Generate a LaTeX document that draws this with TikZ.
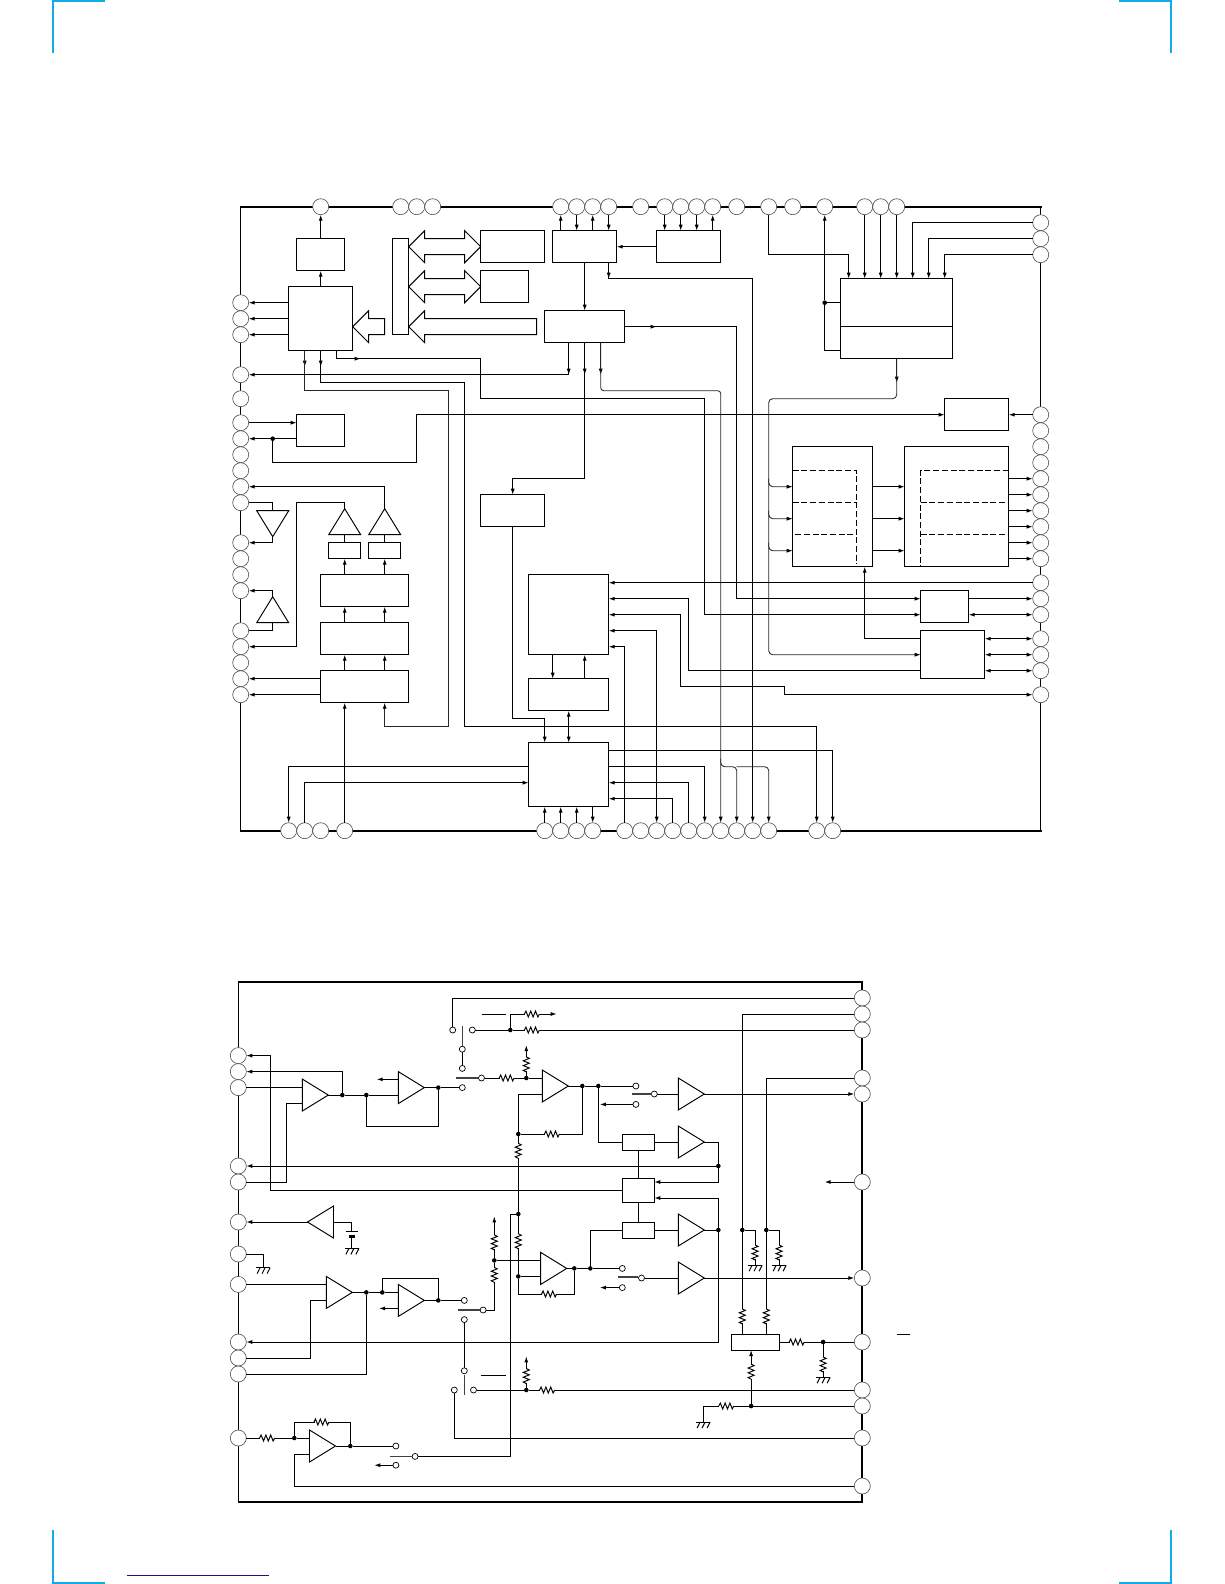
\documentclass[tikz,border=0pt]{standalone}
\usetikzlibrary{arrows.meta,shapes.geometric}
\definecolor{cropblue}{HTML}{12ADE8}
\definecolor{rulenavy}{HTML}{14148C}
\begin{document}
\begin{tikzpicture}[x=8pt,y=-8pt,
  wire/.style={line width=0.95pt},
  arr/.style={wire,-{Latex[length=6pt,width=4pt]}},
  dbl/.style={wire,{Latex[length=6pt,width=4pt]}-{Latex[length=6pt,width=4pt]}},
  soft/.style={line width=0.85pt,draw=black!85,-{Latex[length=6pt,width=4pt,black]}},
  pin/.style={circle, draw=black!70, fill=white, line width=0.6pt, minimum size=16pt, inner sep=0pt, outer sep=0pt},
  box/.style 2 args={rectangle, draw=black, fill=white, line width=0.95pt, minimum width=#1*8pt, minimum height=#2*8pt, inner sep=0pt, outer sep=0pt},
  amp/.style={isosceles triangle, isosceles triangle stretches, draw=black, fill=white, line width=0.95pt,
    minimum width=32pt, minimum height=26pt, inner sep=0pt, outer sep=0pt, anchor=lower side, shape border rotate=#1},
  amp/.default=0,
  dot/.style={circle, fill=black, minimum size=4.6pt, inner sep=0pt, outer sep=0pt},
  sw/.style={circle, draw=black, fill=white, line width=0.7pt, minimum size=6pt, inner sep=0pt, outer sep=0pt},
  swbar/.style={line width=1.5pt, black!75},
  dashline/.style={line width=0.95pt, dash pattern=on 6pt off 2.7pt},
  hres/.pic={\fill[white] (-7pt,-3.5pt) rectangle (7pt,3.5pt);
    \draw[line width=0.95pt] (-7.5pt,0pt) -- (-6pt,3pt) -- (-3.6pt,-3pt) -- (-1.2pt,3pt) -- (1.2pt,-3pt) -- (3.6pt,3pt) -- (6pt,-3pt) -- (7.5pt,0pt);},
  gnd/.pic={\draw[line width=0.95pt] (-7pt,0pt) -- (7pt,0pt);
    \foreach \dx in {-3,2,7} \draw[line width=0.95pt] (\dx pt,0pt) -- ++(-3pt,-6pt);},
  crop/.style={line width=1.8pt, cropblue}]
\useasboundingbox (0,0) rectangle (153,198);

% crop marks
\draw[crop] (6.625,0) -- (6.625,6.625);
\draw[crop] (6.625,0.1) -- (13.125,0.1);
\draw[crop] (146.375,0) -- (146.375,6.625);
\draw[crop] (146.375,0.1) -- (139.875,0.1);
\draw[crop] (6.625,191.25) -- (6.625,198);
\draw[crop] (6.625,197.9) -- (13.125,197.9);
\draw[crop] (146.375,191.25) -- (146.375,198);
\draw[crop] (146.375,197.9) -- (139.875,197.9);
\draw[line width=0.9pt, rulenavy] (15.9,196.9) -- (33.6,196.9);

% upper chart
\begin{scope}[xshift=0.7pt,yshift=-6.7pt]
\draw[line width=1.2pt] (30,25) -- (30,103);
\draw[line width=1.2pt] (130,25) -- (130,103);
\draw[line width=2pt] (29.9,25) -- (130.1,25);
\draw[line width=2pt] (29.9,103) -- (130.1,103);

\foreach \x in {40,50,52,54,70,72,74,76,80,83,85,87,89,92,96,99,103,108,110,112}
  \node[pin] (t\x) at (\x,25) {};
\foreach \x in {36,38,40,43,68,70,72,74,78,80,82,84,86,88,90,92,94,96,102,104}
  \node[pin] (b\x) at (\x,103) {};
\foreach \y in {37,39,41,46,49,52,54,56,58,60,62,67,69,71,73,78,80,82,84,86}
  \node[pin] (l\y) at (30,\y) {};
\foreach \y in {27,29,31,51,53,55,57,59,61,63,65,67,69,72,74,76,79,81,83,86}
  \node[pin] (r\y) at (130,\y) {};

\node[box={6}{4}] (out) at (40,31) {};
\node[box={8}{8}] (cpu) at (40,39) {};
\node[box={2}{12}] (bus) at (50,35) {};
\node[box={8}{4}] (ram) at (64,30) {};
\node[box={6}{4}] (rom) at (63,35) {};
\node[box={8}{4}] (sio) at (73,30) {};
\node[box={10}{4}] (dsp) at (73,40) {};
\node[box={8}{4}] (srv) at (86,30) {};
\node[box={6}{4}] (osc) at (40,53) {};
\node[box={8}{4}] (ctrl) at (64,63) {};
\node[box={14}{10}] (adc) at (112,39) {};
\draw[wire] (adc.west |- 0,40) -- (adc.east |- 0,40);
\node[box={8}{4}] (pll) at (122,51) {};
\node[box={10}{15}] (fil) at (104,62.5) {};
\node[box={13}{15}] (dac) at (119.5,62.5) {};
\node[box={6}{4}] (clk) at (118,75) {};
\node[box={8}{6}] (osd) at (119,81) {};
\node[box={4}{2}] (drva) at (43,68) {};
\node[box={4}{2}] (drvb) at (48,68) {};
\node[box={11}{4}] (sera) at (45.5,73) {};
\node[box={11}{4}] (serb) at (45.5,79) {};
\node[box={11}{4}] (serc) at (45.5,85) {};
\node[box={10}{10}] (mema) at (71,76) {};
\node[box={10}{4}] (memb) at (71,86) {};
\node[box={10}{8}] (memc) at (71,96) {};

% dashed parts of the two large blocks
\draw[dashline] (99,58) -- (107,58) -- (107,69.6);
\draw[dashline] (99,62) -- (107,62);
\draw[dashline] (99.3,66) -- (107,66);
\draw[dashline] (126,58) -- (115,58) -- (115,70);
\draw[dashline] (115,62) -- (126,62);
\draw[dashline] (115,66) -- (126,66);

\node[amp=270] (tria) at (34,63) {};
\node[amp=90] (trib) at (34,77) {};
\node[amp=90] (tric) at (43,66) {};
\node[amp=90] (trid) at (48,66) {};

% hollow bus arrows
\draw[wire,fill=white] (44,40) -- (46,38) -- (46,39) -- (48,39) -- (48,41) -- (46,41) -- (46,42) -- cycle;
\draw[wire,fill=white] (51,30) -- (53,28) -- (53,29) -- (58,29) -- (58,28) -- (60,30) -- (58,32) -- (58,31) -- (53,31) -- (53,32) -- cycle;
\draw[wire,fill=white] (51,35) -- (53,33) -- (53,34) -- (58,34) -- (58,33) -- (60,35) -- (58,37) -- (58,36) -- (53,36) -- (53,37) -- cycle;
\draw[wire,fill=white] (51,40) -- (53,38) -- (53,39) -- (67,39) -- (67,41) -- (53,41) -- (53,42) -- cycle;

\draw[arr] (cpu.north) -- (out.south);
\draw[arr] (out.north) -- (t40);
\foreach \y in {37,39,41} \draw[arr] (cpu.west |- l\y) -- (l\y);
\draw[soft] (cpu.south -| 38,0) -- (38,45);
\draw[soft] (cpu.south -| 38,0) -- (38,48) -- (56,48) -- (56,90) -- (48,90) -- (serc.south -| 48,0);
\draw[arr] (cpu.south) -- (40,45);
\draw[arr] (cpu.south) -- (40,47) -- (58,47) -- (58,90) -- (102,90) -- (b102);
\draw[arr] (cpu.south -| 42,0) -- (42,44) -- (45,44);
\draw[arr] (cpu.south -| 42,0) -- (42,44) -- (60,44) -- (60,49) -- (88,49) -- (88,76) -- (clk.west |- 0,76);

\foreach \x in {70,74} \draw[arr] (sio.north -| t\x) -- (t\x);
\foreach \x in {72,76} \draw[arr] (t\x) -- (sio.north -| t\x);
\draw[arr] (srv.west) -- (sio.east);
\foreach \x in {83,85,87} \draw[arr] (t\x) -- (srv.north -| t\x);
\draw[arr] (srv.north -| t89) -- (t89);
\draw[arr] (sio.south) -- (dsp.north);
\draw[arr] (sio.south -| 76,0) -- (76,34);
\draw[arr] (sio.south -| 76,0) -- (76,34) -- (94,34) -- (b94);

\draw[arr] (dsp.south -| 71,0) -- (71,46);
\draw[arr] (dsp.south -| 71,0) -- (71,46) -- (l46);
\draw[arr] (dsp.south) -- (73,46);
\draw[arr] (dsp.south) -- (73,59) -- (64,59) -- (ctrl.north);
\draw[soft] (dsp.south -| 75,0) -- (75,46);
\draw[soft,rounded corners=3pt] (dsp.south -| 75,0) -- (75,48) -- (90,48) -- (b90);
\draw[soft,rounded corners=4pt] (90,94) -- (90,95) -- (92,95) -- (b92);
\draw[soft,rounded corners=4pt] (92,95) -- (96,95) -- (b96);
\draw[arr] (dsp.east) -- (82,40);
\draw[arr] (dsp.east) -- (92,40) -- (92,74) -- (clk.west |- 0,74);

\draw[arr] (l52) -- (osc.west |- l52);
\node[dot] (oscdot) at (34,54) {};
\draw[arr] (osc.west |- l54) -- (l54);
\draw[arr] (oscdot) -- (34,57) -- (52,57) -- (52,51) -- (pll.west);
\draw[arr] (r51) -- (pll.east);

\node[dot] (adcdot) at (103,37) {};
\draw[arr] (adcdot) -- (t103);
\draw[wire] (adcdot) -- (adc.west |- adcdot);
\draw[wire] (adcdot) -- (103,43) -- (adc.west |- 0,43);
\draw[arr] (t96) -- (96,31) -- (106,31) -- (adc.north -| 106,0);
\foreach \x in {108,110,112} \draw[arr] (t\x) -- (adc.north -| t\x);
\draw[arr] (r27) -- (114,27) -- (adc.north -| 114,0);
\draw[arr] (r29) -- (116,29) -- (adc.north -| 116,0);
\draw[arr] (r31) -- (118,31) -- (adc.north -| 118,0);
\draw[soft] (adc.south) -- (112,47);
\draw[soft,rounded corners=4pt] (adc.south) -- (112,49) -- (96,49) -- (96,81) -- (osd.west |- 0,81);
\foreach \y in {60,64,68} {
  \draw[soft,rounded corners=4pt] (96,\y-1) -- (96,\y) -- (fil.west |- 0,\y);
  \draw[arr] (fil.east |- 0,\y) -- (dac.west |- 0,\y);
}
\foreach \y in {59,61,63,65,67,69} \draw[arr] (dac.east |- r\y) -- (r\y);

\draw[wire] (l62) -- (34,62) -- (tria.lower side);
\draw[arr] (tria.apex) -- (34,67) -- (l67);
\draw[arr] (trib.apex) -- (34,73) -- (l73);
\draw[wire] (l78) -- (34,78) -- (trib.lower side);
\draw[arr] (tric.apex) -- (43,62) -- (37,62) -- (37,80) -- (l80);
\draw[arr] (trid.apex) -- (48,60) -- (l60);
\draw[wire] (drva.north) -- (tric.lower side);
\draw[wire] (drvb.north) -- (trid.lower side);
\foreach \x in {43,48} {
  \draw[arr] (sera.north -| \x,0) -- (drva.south -| \x,0);
  \draw[arr] (serb.north -| \x,0) -- (sera.south -| \x,0);
  \draw[arr] (serc.north -| \x,0) -- (serb.south -| \x,0);
}
\draw[arr] (serc.west |- l84) -- (l84);
\draw[arr] (serc.west |- l86) -- (l86);
\draw[arr] (b43) -- (serc.south -| b43);

\draw[arr] (ctrl.south) -- (64,89) -- (68,89) -- (memc.north -| 68,0);
\draw[arr] (mema.south -| 69,0) -- (memb.north -| 69,0);
\draw[arr] (memb.north -| 73,0) -- (mema.south -| 73,0);
\draw[dbl] (memb.south) -- (memc.north);
\foreach \x in {68,70,72} \draw[arr] (b\x) -- (memc.south -| b\x);
\draw[arr] (memc.south -| b74) -- (b74);
\draw[arr] (memc.west |- 0,95) -- (36,95) -- (b36);
\draw[arr] (b38) -- (38,97) -- (memc.west |- 0,97);
\draw[arr] (memc.east |- 0,93) -- (104,93) -- (b104);
\draw[arr] (memc.east |- 0,95) -- (88,95) -- (b88);
\draw[arr] (b86) -- (86,97) -- (memc.east |- 0,97);
\draw[arr] (b84) -- (84,99) -- (memc.east |- 0,99);

\draw[arr] (r72) -- (mema.east |- r72);
\draw[arr] (osd.west |- 0,83) -- (86,83) -- (86,74) -- (mema.east |- 0,74);
\draw[dbl] (mema.east |- 0,76) -- (85,76) -- (85,85) -- (98,85) -- (98,86) -- (r86);
\draw[dbl] (mema.east |- 0,78) -- (82,78) -- (b82);
\draw[arr] (b78) -- (78,80) -- (mema.east |- 0,80);
\draw[arr] (clk.east |- r74) -- (r74);
\draw[dbl] (clk.east |- r76) -- (r76);
\foreach \y in {79,81,83} \draw[dbl] (osd.east |- r\y) -- (r\y);
\draw[arr] (osd.west |- 0,79) -- (108,79) -- (fil.south -| 108,0);
\end{scope}

% lower chart
\begin{scope}[xshift=6.3pt,yshift=-6pt]
\draw[line width=1.2pt] (29,122) -- (29,187);
\draw[line width=2pt] (107,122) -- (107,187);
\draw[line width=2pt] (28.9,122) -- (107.1,122);
\draw[line width=2pt] (28.9,187) -- (107.1,187);

\foreach \y [count=\i] in {131.2,133.2,135.2,145,147,152,156,159.8,167,169,171,179}
  \node[pin] (pl\i) at (29,\y) {};
\foreach \y [count=\i] in {124,126,128,134,136,147,159,167,173,175,179,185}
  \node[pin] (pr\i) at (107,\y) {};

\node[amp] (a1) at (37,136.13) {};
\node[amp] (a2) at (49,135.2) {};
\node[amp] (a3) at (67,135) {};
\node[amp] (a4) at (66.8,157.8) {};
\node[amp] (a5) at (40,160.8) {};
\node[amp] (a6) at (49,161.8) {};
\node[amp] (a7) at (37.9,180) {};
\node[amp=180] (a8) at (40.9,152) {};
\node[amp] (b1) at (84,136) {};
\node[amp] (b2) at (84,142) {};
\node[amp] (b3) at (84,153) {};
\node[amp] (b4) at (84,159) {};

\node[box={4}{2}] (x1) at (79,142) {};
\node[box={4}{3}] (x2) at (79,148) {};
\node[box={4}{2}] (x3) at (79,153) {};
\node[box={6.1}{2}] (y1) at (93.65,167) {};

\foreach \n/\x/\y in {d1/42/136.13,d2/45/136.13,d3/54/135.2,d4/65/134,d5/64/141,d6/72/135,d7/74/135,d8/89/145,
  d9/89/153,d10/64/151,d11/61/156.8,d12/64/158.8,d13/71/157.8,d14/73/157.8,d15/92/153,d16/95/153,d17/102.1/167,
  d18/93.1/175,d19/65/173,d20/63/128,d21/45/160.8,d22/47/160.8,d23/54/161.8,d24/36/179,d25/43/180}
  \node[dot] (\n) at (\x,\y) {};
\foreach \n/\x/\y in {sa1/55.8/128,sa2/58.25/128,sa3/57/130.4,sb1/57/132.8,sb2/57/135.2,sb3/59.4/134,
  sc1/78.7/135,sc2/78.7/137.3,sc3/81/136,sd1/77/157.8,sd2/77/160.2,sd3/79.4/159,
  se1/57.25/161.8,se2/57.25/164.2,se3/59.6/163,sf1/57.25/170.6,sf2/56/173,sf3/58.4/173,
  sg1/48.7/180,sg2/48.7/182.4,sg3/51.1/181.3}
  \node[sw] (\n) at (\x,\y) {};

% free ends
\coordinate (fa) at (46.3,134.17);
\coordinate (fb) at (68.8,126);
\coordinate (fc) at (65,129.9);
\coordinate (fd) at (74.2,137.3);
\coordinate (fe) at (74.2,160.2);
\coordinate (ff) at (102.3,147);
\coordinate (fg) at (61,151.3);
\coordinate (fh) at (46.6,162.8);
\coordinate (fi) at (65,168.8);
\coordinate (fj) at (46,182.4);

\draw[arr] (d1) -- (42,133.2) -- (pl2);
\draw[wire] (pl3) -- (a1.lower side |- pl3);
\draw[wire] (a1.lower side |- 0,137.17) -- (35,137.17) -- (35,147) -- (pl5);
\draw[wire] (a1.apex) -- (d1) -- (d2) -- (a2.lower side |- d2);
\draw[wire] (d2) -- (45,140.1) -- (54,140.1) -- (d3);
\draw[wire] (a2.apex) -- (d3) -- (sb2);
\draw[arr] (a2.lower side |- fa) -- (fa);
\draw[arr] (x2.west) -| (33,131.2) -- (pl1);
\draw[wire] (pr1) -- (55.8,124) -- (sa1);
\draw[wire] (sa2) -- (d20) -- (pr3);
\draw[arr] (d20) -- (63,126) -- (fb);
\draw[wire] (59.5,126) -- (62.5,126);
\draw[wire] (sa3) -- (sb1);
\draw[swbar] (57,127.5) -- (57,130);
\draw[swbar] (56.2,134) -- (59,134);
\draw[wire] (sb3) -- (d4) -- (a3.lower side |- d4);
\draw[arr] (d4) -- (fc);
\draw[wire] (a3.lower side |- 0,136) -- (64,136) -- (d5);
\draw[wire] (d5) -- (72,141) -- (d6);
\draw[wire] (d5) -- (d10);
\draw[wire] (d10) -- (d12);
\draw[wire] (d10) -- (63,151) -- (63,181.3) -- (sg3);
\draw[wire] (a3.apex) -- (d6) -- (d7) -- (sc1);
\draw[wire] (d7) -- (74,142) -- (x1.west);
\draw[arr] (sc2) -- (fd);
\draw[swbar] (78.2,136) -- (80.7,136);
\draw[wire] (sc3) -- (b1.lower side);
\draw[arr] (b1.apex) -- (pr5);
\draw[wire] (x1.east) -- (b2.lower side);
\draw[wire] (x1.south) -- (x2.north);
\draw[wire] (x2.south) -- (x3.north);
\draw[wire] (x3.east) -- (b3.lower side);
\draw[wire] (b2.apex) -- (89,142) -- (d8);
\draw[arr] (d8) -- (pl4);
\draw[arr] (d8) -- (89,147) -- (x2.east |- 0,147);
\draw[wire] (b3.apex) -- (d9);
\draw[arr] (d9) -- (89,149) -- (x2.east |- 0,149);
\draw[arr] (d9) -- (89,167) -- (pl9);
\draw[arr] (pr6) -- (ff);

\draw[wire] (d11) -- (a4.lower side |- d11);
\draw[wire] (d12) -- (a4.lower side |- d12);
\draw[arr] (d11) -- (fg);
\draw[wire] (d11) -- (61,163) -- (se3);
\draw[wire] (d12) -- (64,161) -- (71,161) -- (d13);
\draw[wire] (a4.apex) -- (d13) -- (d14) -- (sd1);
\draw[wire] (d14) -- (73,153) -- (x3.west);
\draw[arr] (sd2) -- (fe);
\draw[swbar] (76.5,158.9) -- (79,158.9);
\draw[wire] (sd3) -- (b4.lower side);
\draw[arr] (b4.apex) -- (pr7);

\draw[arr] (a8.apex) -- (pl6);
\draw[wire] (a8.lower side) -- (43.2,152) -- (43.2,153.2);
\draw[wire] (42.4,153.2) -- (43.9,153.2);
\fill (42.8,153.6) rectangle (43.6,154);
\draw[wire] (43.2,154) -- (43.2,155.3);
\pic at (43.2,155.3) {gnd};
\draw[wire] (pl7) -- (32.1,156) -- (32.1,157.7);
\pic at (32.1,157.7) {gnd};

\draw[wire] (pl8) -- (a5.lower side |- pl8);
\draw[wire] (pl10) -- (38,169) -- (38,161.8) -- (a5.lower side |- 0,161.8);
\draw[wire] (a5.apex) -- (d21) -- (d22) -- (a6.lower side |- d22);
\draw[wire] (d21) -- (45,171) -- (pl11);
\draw[wire] (d22) -- (47,159) -- (54,159) -- (d23);
\draw[wire] (a6.apex) -- (d23) -- (se1);
\draw[arr] (a6.lower side |- fh) -- (fh);
\draw[swbar] (56.5,163) -- (59.2,163);
\draw[wire] (se2) -- (sf1);
\draw[swbar] (57.3,171.1) -- (57.3,173.6);
\draw[wire] (sf3) -- (d19) -- (pr9);
\draw[arr] (d19) -- (fi);
\draw[wire] (59.3,171.2) -- (62.5,171.2);
\draw[wire] (sf2) -- (56,179) -- (pr11);

\draw[wire] (pl12) -- (d24) -- (a7.lower side |- d24);
\draw[wire] (d24) -- (36,177) -- (43,177) -- (d25);
\draw[wire] (a7.apex) -- (d25) -- (sg1);
\draw[wire] (a7.lower side |- 0,181) -- (36,181) -- (36,185) -- (pr12);
\draw[arr] (sg2) -- (fj);
\draw[swbar] (48,181.3) -- (50.7,181.3);

% right hand side of the lower chart
\draw[wire] (pr2) -- (92,126) -- (d15) -- (y1.north -| d15);
\draw[wire] (pr4) -- (95,134) -- (d16) -- (y1.north -| d16);
\draw[wire] (d15) -- (93.6,153) -- (93.6,157.4);
\draw[wire] (d16) -- (96.6,153) -- (96.6,157.4);
\pic at (93.6,157.4) {gnd};
\pic at (96.6,157.4) {gnd};
\draw[wire] (y1.east) -- (d17) -- (pr8);
\draw[wire] (d17) -- (102.1,171.4);
\pic at (102.1,171.4) {gnd};
\draw[arr] (d18) -- (y1.south -| d18);
\draw[wire] (pr10) -- (d18) -- (87.1,175) -- (87.1,177);
\pic at (87.1,177) {gnd};
\draw[wire] (111.3,166) -- (113,166);

% resistors
\foreach \x/\y in {65.7/126,65.7/128,62.55/134,68.2/141,67.85/161,67.6/173,32.6/179,39.4/177,98.8/167,90/175}
  \pic at (\x,\y) {hres};
\foreach \x/\y in {65/132.3,64/143.1,64/154.4,61/154.55,61/158.6,65/171.25,92/163.8,95/163.8,93.6/155.8,96.6/155.8,102.1/169.8,93.1/170.7}
  \pic[rotate=90] at (\x,\y) {hres};
\end{scope}
\end{tikzpicture}
\end{document}
